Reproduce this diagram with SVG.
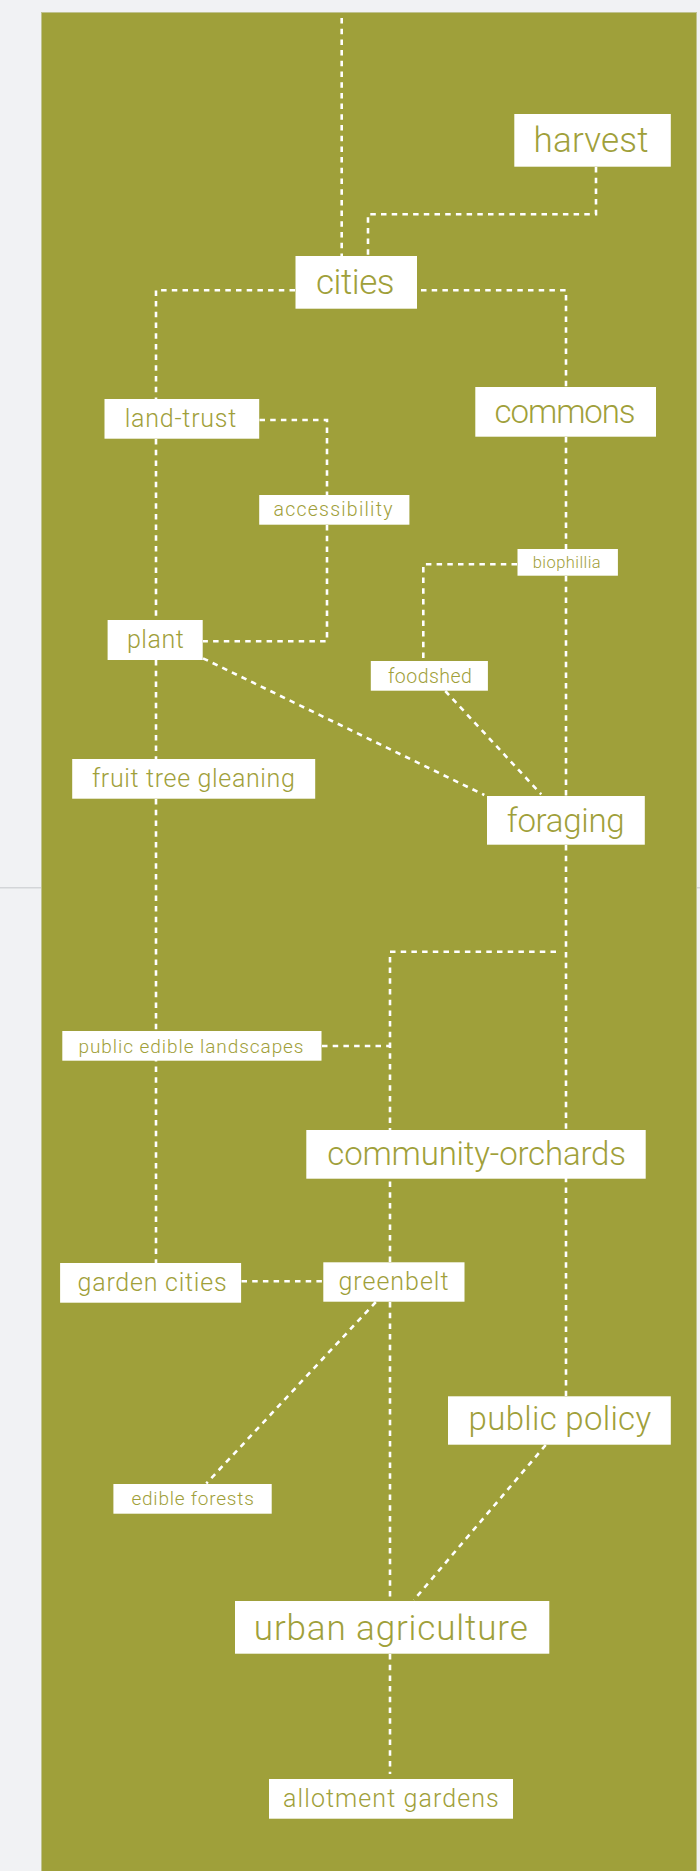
<svg xmlns="http://www.w3.org/2000/svg" width="700" height="1871" viewBox="0 0 700 1871">
<style>
.bg{fill:#f1f2f4}
.panel{fill:#9fa03a;stroke:#bfc290;stroke-width:1}
.c{fill:none;stroke:#ffffff;stroke-width:2.6;stroke-dasharray:5.5 5.2}
.n rect{fill:#ffffff}
.n text{fill:#9fa03a;font-family:Roboto,"Liberation Sans",Arial,sans-serif;font-weight:300}
.xl{font-size:35px}
.l{font-size:33px}
.m{font-size:25px}
.s{font-size:19.5px}
.xs{font-size:19px}
</style>
<rect class="bg" x="0" y="0" width="700" height="1871"/>
<rect x="0" y="887" width="700" height="1.5" fill="#d3d5d8"/>
<rect class="panel" x="41.5" y="12.5" width="655" height="1870"/>
<g id="connectors">
<path class="c" d="M341.7 18 V256"/>
<path class="c" d="M596 167 V214.3 H368 V256"/>
<path class="c" d="M295 290.3 H156 V399"/>
<path class="c" d="M421 290.3 H566 V387"/>
<path class="c" d="M259.5 420 H327 V495"/>
<path class="c" d="M156 439 V620"/>
<path class="c" d="M566 437 V796"/>
<path class="c" d="M327 525 V641.3 H203"/>
<path class="c" d="M517 564.3 H423.3 V661"/>
<path class="c" d="M203 658.3 L484.3 795"/>
<path class="c" d="M445.3 691 L541.2 794.3"/>
<path class="c" d="M156 660 V1263"/>
<path class="c" d="M566 845 V1396"/>
<path class="c" d="M556 951.7 H390 V1262"/>
<path class="c" d="M322 1046 H390"/>
<path class="c" d="M241.5 1281.3 H322.5"/>
<path class="c" d="M390 1302 V1601"/>
<path class="c" d="M375.8 1302 L206.3 1483.5"/>
<path class="c" d="M545.7 1445 L413.9 1600"/>
<path class="c" d="M390 1654 V1774"/>
</g>
<g id="harvest" class="n"><rect x="514.3" y="114" width="156.5" height="52.7"/><text class="xl" x="533.5" y="152" textLength="115">harvest</text></g>
<g id="cities" class="n"><rect x="295.5" y="256" width="121.5" height="52.7"/><text class="xl" x="316" y="294.3" textLength="78.5">cities</text></g>
<g id="land-trust" class="n"><rect x="104.5" y="399" width="154.7" height="39.7"/><text class="m" x="124.7" y="427" textLength="111.6">land-trust</text></g>
<g id="commons" class="n"><rect x="475.3" y="387" width="180.7" height="49.7"/><text class="l" x="494.6" y="422.5" textLength="141">commons</text></g>
<g id="accessibility" class="n"><rect x="259.2" y="495" width="150.2" height="29.7"/><text class="s" x="273.5" y="516.3" textLength="119">accessibility</text></g>
<g id="biophillia" class="n"><rect x="517.5" y="549" width="100.4" height="26.7"/><text x="532.7" y="567.5" font-size="16.5" textLength="68">biophillia</text></g>
<g id="plant" class="n"><rect x="107.6" y="620" width="95.1" height="40"/><text class="m" x="126.9" y="648" textLength="57">plant</text></g>
<g id="foodshed" class="n"><rect x="370.8" y="661" width="117.1" height="29.7"/><text class="s" x="387.9" y="683" textLength="84">foodshed</text></g>
<g id="fruit-tree-gleaning" class="n"><rect x="72.2" y="759" width="243" height="39.7"/><text class="m" x="91.9" y="787" textLength="203">fruit tree gleaning</text></g>
<g id="foraging" class="n"><rect x="487" y="796" width="157.8" height="48.7"/><text class="l" x="506.7" y="832" textLength="118">foraging</text></g>
<g id="public-edible-landscapes" class="n"><rect x="62.3" y="1031" width="259.2" height="29.7"/><text class="xs" x="78.5" y="1052.5" textLength="225">public edible landscapes</text></g>
<g id="community-orchards" class="n"><rect x="306.3" y="1130" width="339.4" height="48.7"/><text class="l" x="327.3" y="1164.7" textLength="298.7">community-orchards</text></g>
<g id="garden-cities" class="n"><rect x="60.1" y="1263" width="181" height="39.7"/><text class="m" x="77.6" y="1290.5" textLength="149">garden cities</text></g>
<g id="greenbelt" class="n"><rect x="323.3" y="1262.3" width="141.2" height="39.4"/><text class="m" x="338.5" y="1290.3" textLength="110">greenbelt</text></g>
<g id="edible-forests" class="n"><rect x="113.4" y="1484" width="158.3" height="29.7"/><text class="xs" x="131.4" y="1505.3" textLength="122.4">edible forests</text></g>
<g id="public-policy" class="n"><rect x="448" y="1396.3" width="222.8" height="48.4"/><text class="l" x="468.6" y="1430.3" textLength="182.5">public policy</text></g>
<g id="urban-agriculture" class="n"><rect x="235" y="1601" width="314.3" height="52.7"/><text class="xl" x="253.8" y="1640.3" textLength="274">urban agriculture</text></g>
<g id="allotment-gardens" class="n"><rect x="269" y="1779" width="244" height="39.7"/><text class="m" x="283" y="1807" textLength="215.7">allotment gardens</text></g>
</svg>
